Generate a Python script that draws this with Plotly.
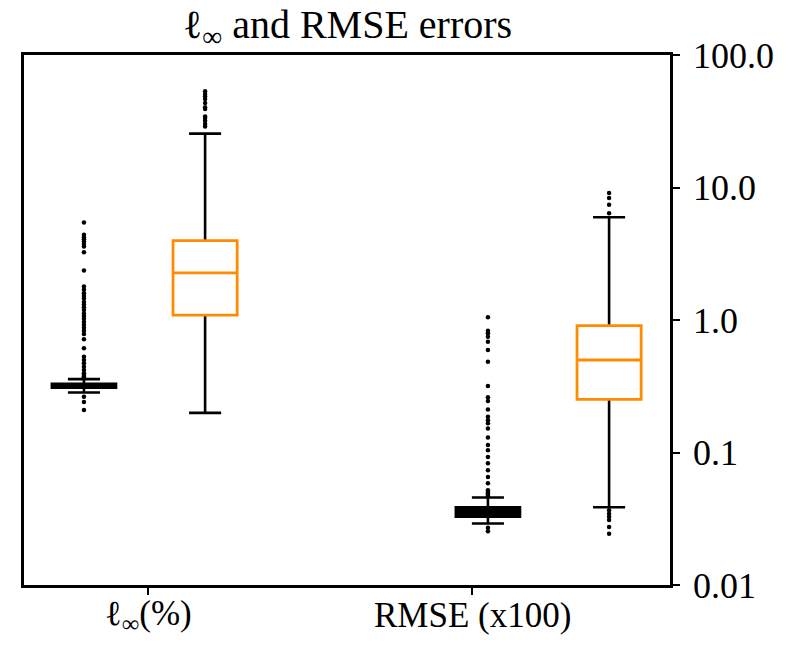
import plotly.graph_objects as go

# ---------------- data ----------------
categories = ["ℓ<sub>∞</sub>(%)", "RMSE (x100)"]
title_text = "ℓ<sub>∞</sub> and RMSE errors"
tick_labels_y = ["0.01", "0.1", "1.0", "10.0", "100.0"]
tick_vals_y = [0.01, 0.1, 1.0, 10.0, 100.0]

# black boxes (per category): lowerfence, q1, median, q3, upperfence
black_low = [0.284, 0.0291]
black_q1 = [0.308, 0.0327]
black_med = [0.319, 0.0350]
black_q3 = [0.330, 0.0386]
black_up = [0.358, 0.0457]

# orange boxes
orange_low = [0.199, 0.0386]
orange_q1 = [1.09, 0.252]
orange_med = [2.27, 0.499]
orange_q3 = [3.97, 0.906]
orange_up = [25.5, 5.97]

# outliers
black_fliers_linf = [5.44, 4.39, 4.22, 4.07, 3.91, 3.75, 3.58, 3.25, 2.36, 1.79,
                     1.69, 1.59, 1.52, 1.45, 1.37, 1.31, 1.25, 1.19, 1.12, 1.07,
                     1.02, 0.966, 0.917, 0.875, 0.830, 0.783, 0.715, 0.611, 0.528,
                     0.499, 0.471, 0.444, 0.419, 0.396, 0.385, 0.375, 0.368, 0.362,
                     0.263, 0.241, 0.209]
orange_fliers_linf = [53.2, 50.8, 48.8, 46.6, 43.4, 40.3, 39.1, 34.4, 33.5, 31.9,
                      30.2, 28.9]
black_fliers_rmse = [1.05, 0.830, 0.793, 0.748, 0.686, 0.593, 0.484, 0.317, 0.261,
                     0.245, 0.211, 0.186, 0.175, 0.166, 0.152, 0.130, 0.114, 0.104,
                     0.0926, 0.0830, 0.0735, 0.0654, 0.0586, 0.0519, 0.050, 0.049,
                     0.048, 0.047, 0.027, 0.0255]
orange_fliers_rmse = [9.07, 8.32, 7.4, 6.4, 0.0366, 0.0345, 0.0327, 0.031, 0.0274,
                      0.0244]

# ---------------- layout constants ----------------
cat_pos = [1.0, 2.0]
black_pos = [0.802, 2.049]
orange_pos = [1.176, 2.423]
box_w = 0.198
ORANGE = "#ff8c00"
FONT = "Liberation Serif"
LW = 2.6

fig = go.Figure()

black_fliers = [black_fliers_linf, black_fliers_rmse]
orange_fliers = [orange_fliers_linf, orange_fliers_rmse]

for i in range(2):
    # black box
    fig.add_trace(go.Box(
        x=[black_pos[i]], q1=[black_q1[i]], median=[black_med[i]], q3=[black_q3[i]],
        lowerfence=[black_low[i]], upperfence=[black_up[i]],
        width=box_w, whiskerwidth=0.5, boxpoints=False,
        line=dict(color="black", width=LW), fillcolor="black",
        showlegend=False, hoverinfo="skip"))
    fig.add_trace(go.Scatter(
        x=[black_pos[i]] * len(black_fliers[i]), y=black_fliers[i], mode="markers",
        marker=dict(color="black", size=4.5), showlegend=False, hoverinfo="skip"))
    # orange box: black whiskers first
    fig.add_trace(go.Box(
        x=[orange_pos[i]], q1=[orange_med[i]], median=[orange_med[i]], q3=[orange_med[i]],
        lowerfence=[orange_low[i]], upperfence=[orange_up[i]],
        width=box_w, whiskerwidth=0.5, boxpoints=False,
        line=dict(color="black", width=LW), fillcolor="white",
        showlegend=False, hoverinfo="skip"))
    fig.add_trace(go.Box(
        x=[orange_pos[i]], q1=[orange_q1[i]], median=[orange_med[i]], q3=[orange_q3[i]],
        lowerfence=[orange_q1[i]], upperfence=[orange_q3[i]],
        width=box_w, whiskerwidth=0.0, boxpoints=False,
        line=dict(color=ORANGE, width=LW + 0.2), fillcolor="white",
        showlegend=False, hoverinfo="skip"))
    fig.add_trace(go.Scatter(
        x=[orange_pos[i]] * len(orange_fliers[i]), y=orange_fliers[i], mode="markers",
        marker=dict(color="black", size=4.5), showlegend=False, hoverinfo="skip"))

# title
fig.add_annotation(text=title_text, xref="paper", yref="paper", x=0.5,
                   y=1 + 28 / 530, xanchor="center", yanchor="middle",
                   showarrow=False, font=dict(family=FONT, size=40, color="black"))
# category labels
for i in range(2):
    fig.add_annotation(text=categories[i], xref="x", yref="paper", x=cat_pos[i],
                       y=-30 / 530, xanchor="center", yanchor="middle",
                       showarrow=False, font=dict(family=FONT, size=35, color="black"))

fig.update_layout(
    width=783, height=639,
    margin=dict(l=16, r=121, t=47, b=62, autoexpand=False),
    paper_bgcolor="white", plot_bgcolor="white",
    boxmode="overlay",
    font=dict(family=FONT, size=36, color="black"),
    xaxis=dict(range=[0.617, 2.611], tickvals=cat_pos, showticklabels=False,
               showgrid=False, zeroline=False, showline=True, mirror=True,
               linecolor="black", linewidth=LW, ticks="outside", ticklen=7,
               tickwidth=2, tickcolor="black"),
    yaxis=dict(type="log", range=[-2, 2], tickvals=tick_vals_y, ticktext=tick_labels_y,
               side="right", showgrid=False, zeroline=False, showline=True, mirror=True,
               linecolor="black", linewidth=LW, ticks="outside", ticklen=7,
               tickwidth=2, tickcolor="black", ticklabelstandoff=6,
               tickfont=dict(family=FONT, size=36)),
)

fig.write_html("out.html")
